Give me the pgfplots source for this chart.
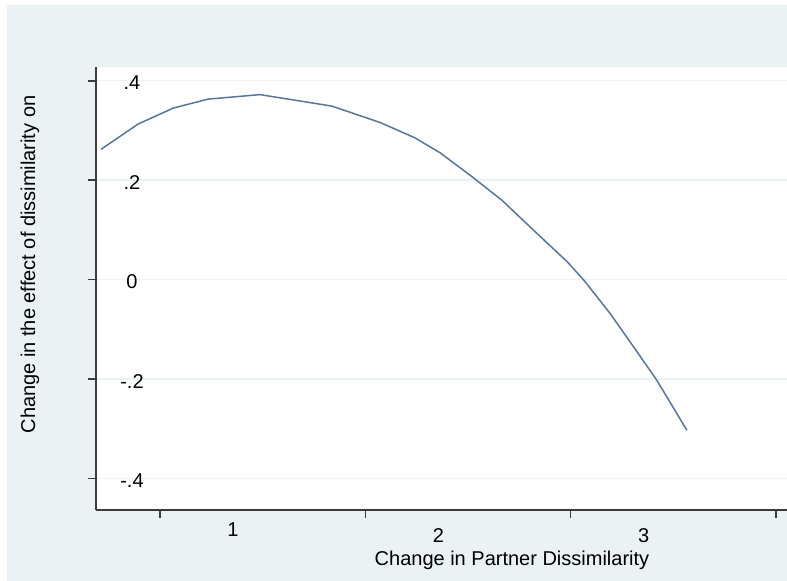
\documentclass[border=0pt]{standalone}
\usepackage{pgfplots}
\pgfplotsset{compat=1.18}
\usepackage{fontspec}
\setmainfont{Liberation Sans}
\definecolor{bgc}{RGB}{234,242,243}
\definecolor{linec}{RGB}{88,118,152}
\definecolor{axc}{RGB}{60,60,60}
\begin{document}
\begin{tikzpicture}
\useasboundingbox (0,0) rectangle (393.5pt,290.5pt);
\fill[white] (0,0) rectangle (393.5pt,290.5pt);
\fill[bgc] (3.5pt,0) rectangle (393.5pt,288pt);
\begin{pgfinterruptboundingbox}
\begin{axis}[
  at={(48pt,35.5pt)}, anchor=south west,
  scale only axis, width=345.5pt, height=221.5pt,
  xmin=0.6883, xmax=4.0536, ymin=-0.4633, ymax=0.4276,
  axis lines=left,
  axis line style={-, line width=0.8pt, color=axc},
  axis background/.style={fill=white},
  tick align=outside, major tick length=4pt,
  tick style={line width=0.8pt, color=axc},
  xtick={2,3,4}, xticklabels={2,3,},
  extra x ticks={1}, extra x tick labels={1},
  extra x tick style={xticklabel style={yshift=3pt}},
  ytick={-0.4,-0.2,0,0.2,0.4}, yticklabels={-.4,-.2,0,.2,.4},
  ymajorgrids, grid style={line width=0.75pt, color=bgc},
  xticklabel style={anchor=center, xshift=36.5pt, yshift=-9pt},
  yticklabel style={anchor=center, xshift=22pt, yshift=-1pt},
  xlabel={Change in Partner Dissimilarity},
  ylabel={Change in the effect of dissimilarity on},
  xlabel style={at={(axis description cs:0.6020,-0.1129)}, anchor=center},
  ylabel style={at={(axis description cs:-0.0955,0.5542)}, anchor=center},
  clip=false,
]
\addplot[color=linec, line width=0.75pt] coordinates {
(0.713,0.262)
(0.894,0.313)
(1.065,0.345)
(1.235,0.363)
(1.487,0.372)
(1.836,0.349)
(2.072,0.316)
(2.242,0.285)
(2.364,0.255)
(2.510,0.210)
(2.664,0.160)
(2.869,0.080)
(2.983,0.036)
(3.064,-0.001)
(3.192,-0.068)
(3.306,-0.135)
(3.419,-0.202)
(3.566,-0.303)
};
\end{axis}
\end{pgfinterruptboundingbox}
\end{tikzpicture}
\end{document}
